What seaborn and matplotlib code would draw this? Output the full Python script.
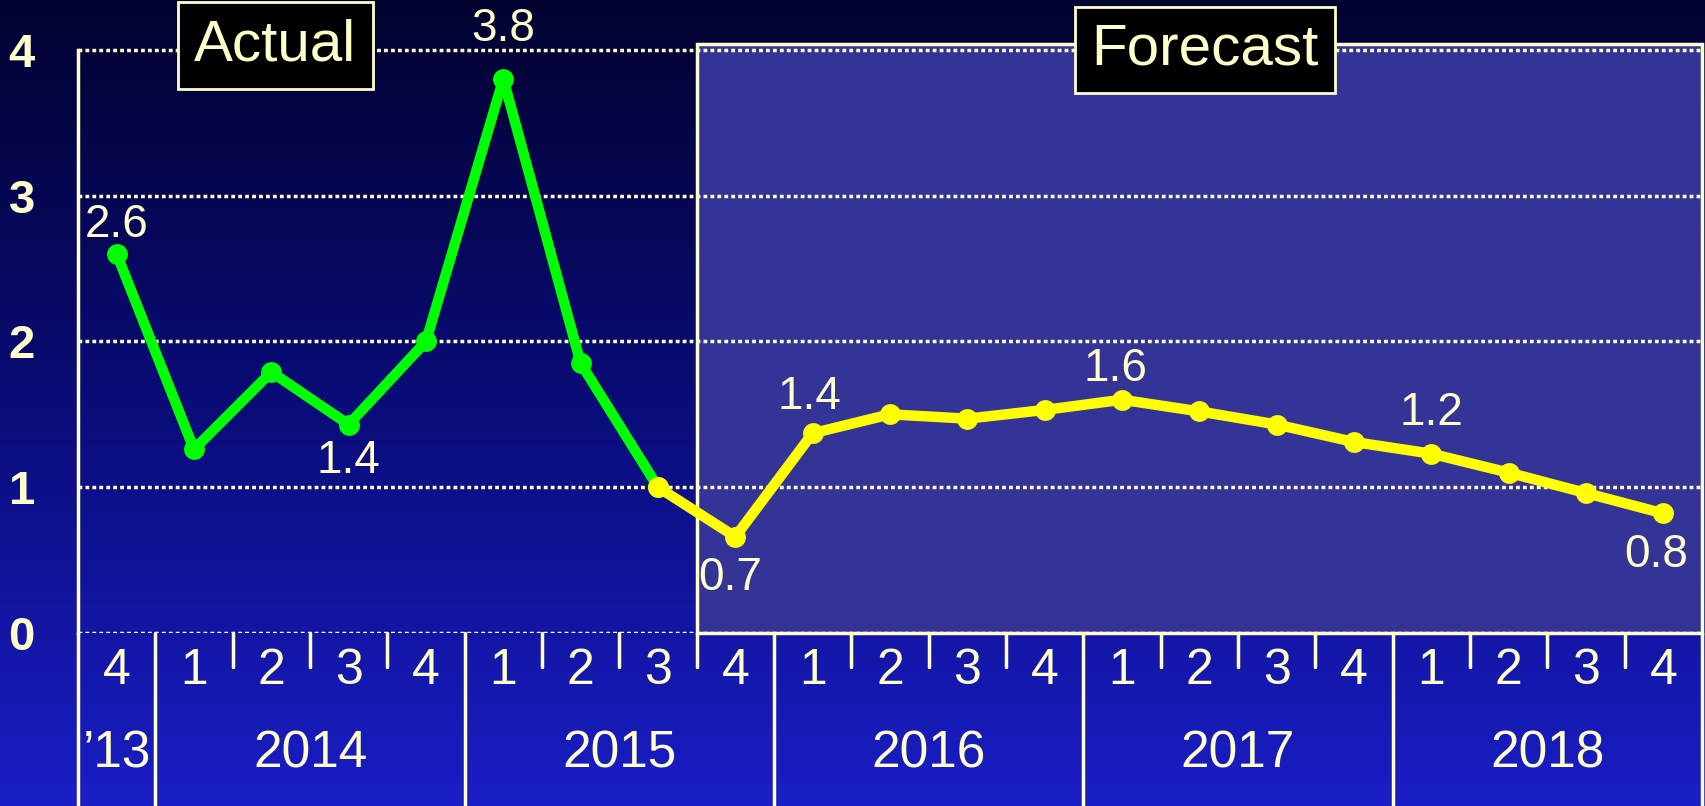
import numpy as np
import pandas as pd
import seaborn as sns
import matplotlib.pyplot as plt
import matplotlib.transforms as mtransforms
from matplotlib.colors import LinearSegmentedColormap
from matplotlib.patches import Rectangle

# quarter labels along the x axis, one per point
quarters = ['4',
            '1', '2', '3', '4',
            '1', '2', '3', '4',
            '1', '2', '3', '4',
            '1', '2', '3', '4',
            '1', '2', '3', '4']
years = ['\u201913', '2014', '2015', '2016', '2017', '2018']
year_first = [0, 1, 5, 9, 13, 17]
year_last = [0, 4, 8, 12, 16, 20]

# actual growth (Q4 2013 - Q3 2015) and forecast (Q3 2015 - Q4 2018)
actual = [2.6, 1.26, 1.79, 1.43, 2.0, 3.8, 1.85, 1.0]
forecast = [1.0, 0.66, 1.37, 1.5, 1.47, 1.53, 1.6, 1.52, 1.43, 1.31, 1.23, 1.1, 0.96, 0.82]
forecast_start = 7

label_idx = [0, 3, 5, 8, 9, 13, 17, 20]
label_text = ['2.6', '1.4', '3.8', '0.7', '1.4', '1.6', '1.2', '0.8']
label_offset = [(0, 21), (0, -26), (0, 36), (-4, -30), (-2, 26), (-5, 22), (0, 29), (-5, -30)]

cream = '#ffffcc'

sns.set_style('white')
plt.rcParams['font.family'] = ['Liberation Sans', 'DejaVu Sans']

fig = plt.figure(figsize=(17.06, 8.06), dpi=100)

# gradient background
bg = fig.add_axes([0, 0, 1, 1], zorder=0)
grad = np.linspace(0, 1, 256).reshape(-1, 1)
cmap = LinearSegmentedColormap.from_list('bg', ['#020230', '#0a0c78', '#1a1ec6'])
bg.imshow(grad, aspect='auto', cmap=cmap, extent=[0, 1, 0, 1], origin='upper')
bg.axis('off')

ax = fig.add_axes([78 / 1706, 173 / 806, 1624 / 1706, 589 / 806], zorder=1)
ax.set_facecolor('none')
ax.set_xlim(-0.5, len(quarters) - 0.5)
ax.set_ylim(0, 4.04)

# forecast shaded region
ax.add_patch(Rectangle((forecast_start + 0.5, 0), len(quarters) - forecast_start - 1, 4.04,
                       facecolor='#343496', edgecolor=cream, lw=2.5, zorder=1, clip_on=False))

for yv in [0, 1, 2, 3, 4]:
    ax.axhline(yv, color=cream, lw=2.5, ls=(0, (1.1, 0.9)), zorder=2)

df_act = pd.DataFrame({'q': range(len(actual)), 'v': actual})
df_fc = pd.DataFrame({'q': range(forecast_start, forecast_start + len(forecast)), 'v': forecast})
sns.lineplot(data=df_act, x='q', y='v', ax=ax, color='#00ff00', lw=7.5, marker='o',
             markersize=15, markeredgewidth=0, zorder=4)
sns.lineplot(data=df_fc, x='q', y='v', ax=ax, color='#ffff00', lw=7.5, marker='o',
             markersize=15, markeredgewidth=0, zorder=5)

allv = actual[:forecast_start] + forecast
for i, t, off in zip(label_idx, label_text, label_offset):
    ax.annotate(t, (i, allv[i]), xytext=off, textcoords='offset points',
                ha='center', va='center', fontsize=33, color=cream, zorder=6,
                annotation_clip=False)

# y axis
for s in ['top', 'right', 'bottom']:
    ax.spines[s].set_visible(False)
ax.spines['left'].set_color(cream)
ax.spines['left'].set_linewidth(2.5)
ax.spines['left'].set_bounds(0, 4)
ax.set_yticks([0, 1, 2, 3, 4])
ax.set_yticklabels(['0', '1', '2', '3', '4'], fontweight='bold')
ax.tick_params(axis='y', colors=cream, length=12, width=3, labelsize=34, pad=19)
ax.set_xticks([])
ax.set_xlabel('')
ax.set_ylabel('')

# two-row category axis
trans = mtransforms.blended_transform_factory(ax.transData, ax.transAxes)
for i, q in enumerate(quarters):
    ax.text(i, -0.064, q, transform=trans, ha='center', va='center',
            fontsize=36, color=cream, clip_on=False)
for name, a, b in zip(years, year_first, year_last):
    ax.text((a + b) / 2, -0.205, name, transform=trans, ha='center', va='center',
            fontsize=37, color=cream, clip_on=False)
    ax.plot([a - 0.5, a - 0.5], [0, -0.3], transform=trans, color=cream, lw=2.5, clip_on=False)
    for q in range(a, b):
        ax.plot([q + 0.5, q + 0.5], [0, -0.058], transform=trans, color=cream, lw=2.5, clip_on=False)
ax.plot([len(quarters) - 0.5] * 2, [0, -0.3], transform=trans, color=cream, lw=2.5, clip_on=False)

# Actual / Forecast tags
box = dict(boxstyle='square,pad=0.28', facecolor='black', edgecolor=cream, lw=2)
ax.text(2.05, 0.998, 'Actual', transform=trans, ha='center', va='center', fontsize=42,
        color=cream, bbox=box, zorder=7, clip_on=False)
ax.text(14.07, 0.99, 'Forecast', transform=trans, ha='center', va='center', fontsize=42,
        color=cream, bbox=box, zorder=7, clip_on=False)

fig.savefig('out.png', dpi=100)
